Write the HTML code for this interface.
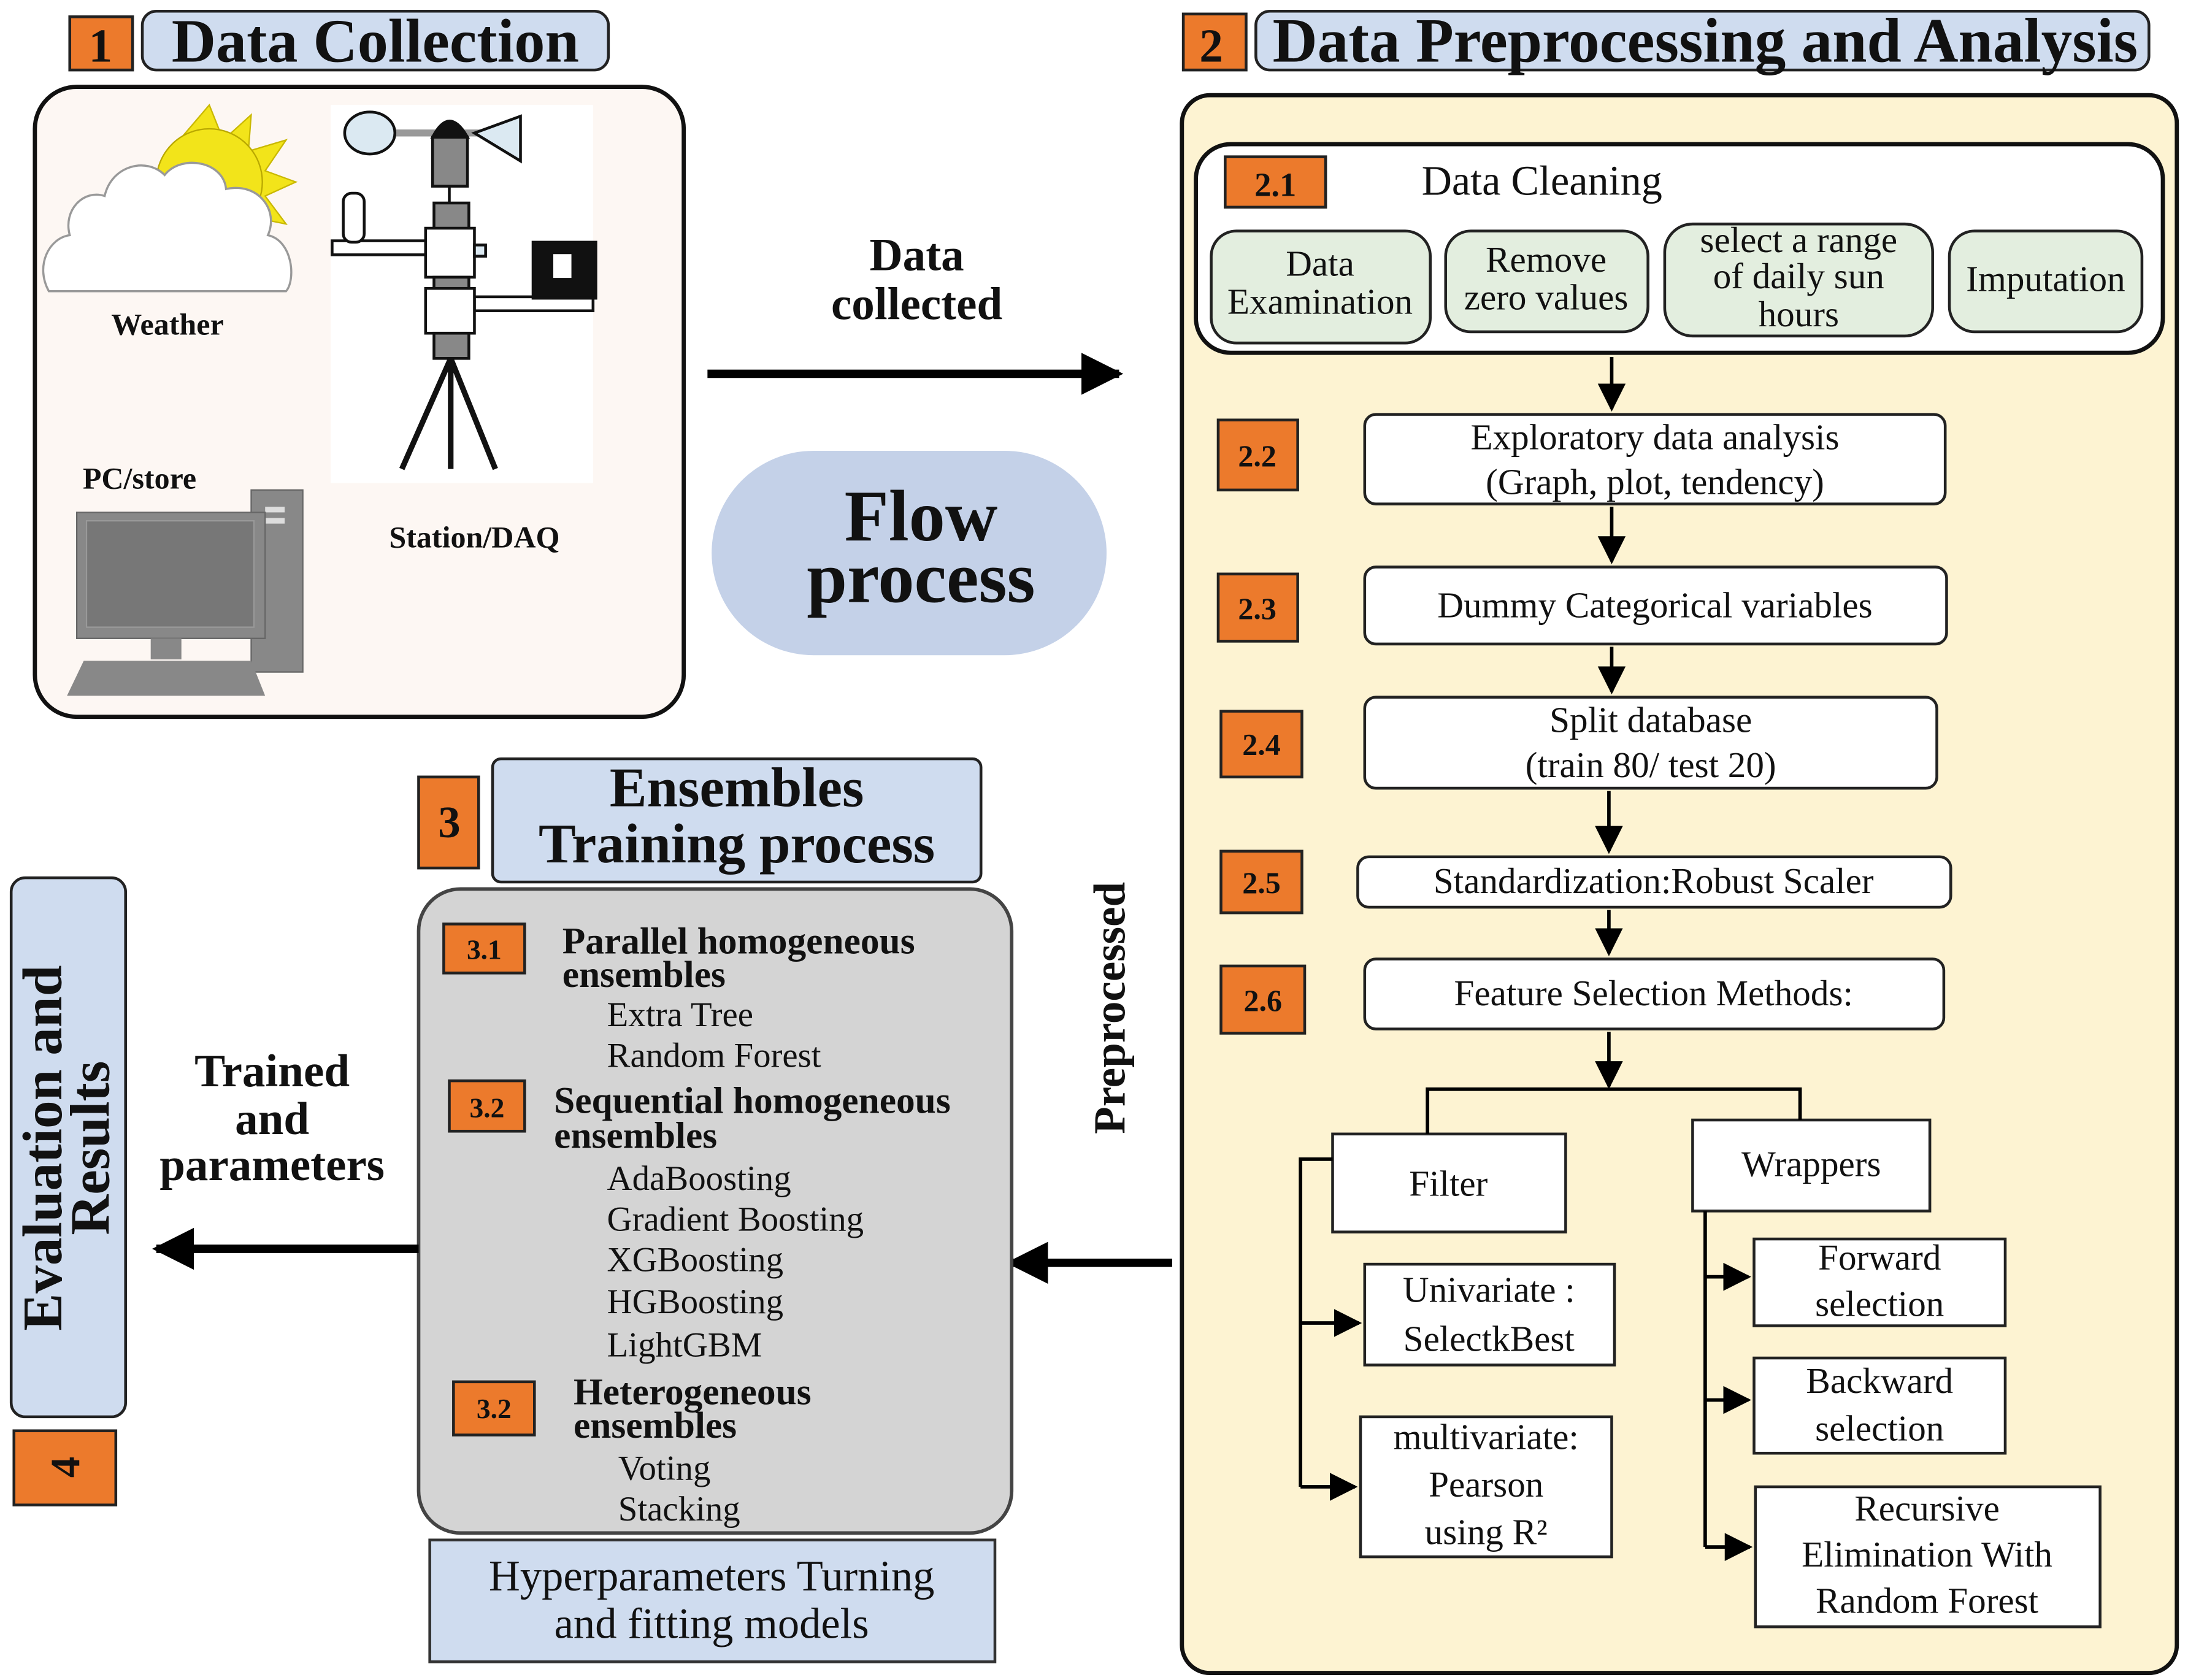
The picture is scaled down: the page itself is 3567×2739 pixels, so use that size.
<!DOCTYPE html>
<html><head><meta charset="utf-8"><style>
html,body{margin:0;padding:0;background:#fff}
svg{display:block}
text{font-family:"Liberation Serif",serif;fill:#111}
.b{font-weight:bold}
</style></head><body>
<svg width="3567" height="2739" viewBox="0 0 1568 1200" preserveAspectRatio="none" xmlns="http://www.w3.org/2000/svg">
<defs>
<marker id="ah" viewBox="0 0 10 10" refX="9" refY="5" markerWidth="5" markerHeight="5" orient="auto"><path d="M0,0L10,5L0,10z" fill="#000"/></marker>
<marker id="ahs" viewBox="0 0 10 10" refX="9" refY="5" markerWidth="8" markerHeight="8" orient="auto"><path d="M0,0L10,5L0,10z" fill="#000"/></marker>
</defs>
<g stroke="#222" stroke-width="2">
<rect x="50" y="12" width="45" height="38" fill="#ec7a2c"/>
<rect x="102" y="8" width="334" height="42" rx="10" fill="#cfdcef"/>
<rect x="25" y="62" width="465" height="450" rx="30" fill="#fdf7f3" stroke="#111" stroke-width="3"/>
</g>
<text x="72" y="44" class="b" font-size="34" text-anchor="middle">1</text>
<text x="269" y="44" class="b" font-size="44" text-anchor="middle">Data Collection</text>
<g>
<polygon points="150,75 160,100 180,82 178,108 205,100 190,122 212,130 190,140 205,160 180,155 170,172 140,150 120,110" fill="#f2e41a" stroke="#c9b800"/>
<circle cx="150" cy="130" r="38" fill="#f2e41a" stroke="#b9a800"/>
<path d="M35,208 C25,190 35,170 50,168 C45,150 60,135 75,140 C80,118 105,112 118,125 C130,110 160,115 162,135 C185,130 200,150 192,168 C210,172 212,200 205,208 Z" fill="#fff" stroke="#999" stroke-width="1.5"/>
</g>
<text x="120" y="239" class="b" font-size="22" text-anchor="middle">Weather</text>
<rect x="237" y="75" width="188" height="270" fill="#fff"/>
<g stroke="#111" stroke-width="2">
<line x1="280" y1="95" x2="345" y2="95" stroke="#999" stroke-width="5"/>
<ellipse cx="265" cy="95" rx="18" ry="15" fill="#dbe9f2"/>
<path d="M340,95 L373,83 L373,115 Z" fill="#dbe9f2"/>
<path d="M310,98 Q322,75 335,98 Z" fill="#111"/>
<rect x="310" y="98" width="25" height="35" fill="#888"/>
<line x1="322" y1="133" x2="322" y2="145"/>
<rect x="311" y="145" width="25" height="20" fill="#888"/>
<rect x="238" y="172" width="67" height="10" fill="#fff"/>
<rect x="246" y="138" width="15" height="35" rx="6" fill="#fff"/>
<rect x="305" y="163" width="35" height="35" fill="#fff"/>
<rect x="340" y="175" width="8" height="8" fill="#dbe9f2"/>
<rect x="311" y="198" width="25" height="10" fill="#888"/>
<rect x="340" y="212" width="85" height="10" fill="#fff"/>
<rect x="305" y="206" width="35" height="32" fill="#fff"/>
<rect x="382" y="173" width="45" height="40" fill="#111"/>
<rect x="396" y="181" width="14" height="18" fill="#fff" stroke="#111" stroke-width="1"/>
<rect x="311" y="238" width="25" height="18" fill="#888"/>
<path d="M323,256 L288,335 M323,256 L323,335 M323,256 L355,335" stroke-width="4"/>
</g>
<text x="340" y="391" class="b" font-size="22" text-anchor="middle">Station/DAQ</text>
<text x="100" y="349" class="b" font-size="22" text-anchor="middle">PC/store</text>
<g>
<rect x="180" y="350" width="37" height="130" fill="#888" stroke="#666"/>
<rect x="190" y="362" width="14" height="4" fill="#ddd"/><rect x="190" y="370" width="14" height="4" fill="#ddd"/>
<rect x="55" y="366" width="135" height="90" fill="#888" stroke="#666"/>
<rect x="62" y="372" width="120" height="76" fill="#777" stroke="#999"/>
<rect x="108" y="456" width="22" height="15" fill="#888"/>
<path d="M60,472 L180,472 L190,497 L48,497 Z" fill="#888"/>
</g>
<line x1="507" y1="267" x2="802" y2="267" stroke="#000" stroke-width="6" marker-end="url(#ah)"/>
<text x="657" y="193" class="b" font-size="33" text-anchor="middle">Data</text>
<text x="657" y="228" class="b" font-size="33" text-anchor="middle">collected</text>
<rect x="510" y="322" width="283" height="146" rx="73" fill="#c4d1e8"/>
<text x="660" y="386" class="b" font-size="52" text-anchor="middle">Flow</text>
<text x="660" y="430" class="b" font-size="52" text-anchor="middle">process</text>
<g stroke="#222" stroke-width="2">
<rect x="848" y="10" width="45" height="40" fill="#ec7a2c"/>
<rect x="900" y="8" width="640" height="42" rx="10" fill="#cfdcef"/>
<rect x="847" y="68" width="713" height="1127" rx="20" fill="#fdf3d2" stroke="#111" stroke-width="3"/>
<rect x="857" y="103" width="693" height="149" rx="25" fill="#fff" stroke="#111" stroke-width="3"/>
<rect x="878" y="112" width="72" height="36" fill="#ec7a2c"/>
<rect x="868" y="165" width="157" height="80" rx="18" fill="#e3eedf"/>
<rect x="1036" y="165" width="145" height="72" rx="18" fill="#e3eedf"/>
<rect x="1193" y="160" width="192" height="80" rx="20" fill="#e3eedf"/>
<rect x="1397" y="165" width="138" height="72" rx="18" fill="#e3eedf"/>
<rect x="978" y="296" width="416" height="64" rx="8" fill="#fff"/>
<rect x="873" y="300" width="57" height="50" fill="#ec7a2c"/>
<rect x="978" y="405" width="417" height="55" rx="8" fill="#fff"/>
<rect x="873" y="410" width="57" height="48" fill="#ec7a2c"/>
<rect x="978" y="498" width="410" height="65" rx="8" fill="#fff"/>
<rect x="875" y="508" width="58" height="47" fill="#ec7a2c"/>
<rect x="973" y="612" width="425" height="36" rx="8" fill="#fff"/>
<rect x="875" y="608" width="58" height="44" fill="#ec7a2c"/>
<rect x="978" y="685" width="415" height="50" rx="8" fill="#fff"/>
<rect x="875" y="690" width="60" height="48" fill="#ec7a2c"/>
<rect x="955" y="810" width="167" height="70" fill="#fff"/>
<rect x="1213" y="800" width="170" height="65" fill="#fff"/>
<rect x="978" y="903" width="179" height="72" fill="#fff"/>
<rect x="975" y="1012" width="180" height="100" fill="#fff"/>
<rect x="1257" y="885" width="180" height="62" fill="#fff"/>
<rect x="1257" y="970" width="180" height="68" fill="#fff"/>
<rect x="1258" y="1062" width="247" height="100" fill="#fff"/>
</g>
<text x="868" y="44" class="b" font-size="34" text-anchor="middle">2</text>
<text x="1222" y="44" class="b" font-size="45" text-anchor="middle" textLength="620" lengthAdjust="spacingAndGlyphs">Data Preprocessing and Analysis</text>
<text x="914" y="140" class="b" font-size="24" text-anchor="middle">2.1</text>
<text x="1105" y="139" font-size="30" text-anchor="middle">Data Cleaning</text>
<g font-size="26" text-anchor="middle">
<text x="946" y="197">Data</text><text x="946" y="224">Examination</text>
<text x="1108" y="194">Remove</text><text x="1108" y="221">zero values</text>
<text x="1289" y="180">select a range</text><text x="1289" y="206">of daily sun</text><text x="1289" y="233">hours</text>
<text x="1466" y="208">Imputation</text>
<text x="1186" y="321">Exploratory data analysis</text><text x="1186" y="353">(Graph, plot, tendency)</text>
<text x="1186" y="441">Dummy Categorical variables</text>
<text x="1183" y="523">Split database</text><text x="1183" y="555">(train 80/ test 20)</text>
<text x="1185" y="638">Standardization:Robust Scaler</text>
<text x="1185" y="718">Feature Selection Methods:</text>
<text x="1038" y="854">Filter</text>
<text x="1298" y="840">Wrappers</text>
<text x="1067" y="930">Univariate :</text><text x="1067" y="965">SelectkBest</text>
<text x="1065" y="1035">multivariate:</text><text x="1065" y="1069">Pearson</text><text x="1065" y="1103">using R²</text>
<text x="1347" y="907">Forward</text><text x="1347" y="940">selection</text>
<text x="1347" y="995">Backward</text><text x="1347" y="1029">selection</text>
<text x="1381" y="1086">Recursive</text><text x="1381" y="1119">Elimination With</text><text x="1381" y="1152">Random Forest</text>
</g>
<g class="b" font-size="22" text-anchor="middle">
<text x="901" y="333" class="b">2.2</text>
<text x="901" y="442" class="b">2.3</text>
<text x="904" y="539" class="b">2.4</text>
<text x="904" y="638" class="b">2.5</text>
<text x="905" y="722" class="b">2.6</text>
</g>
<g stroke="#000" stroke-width="2.5" fill="none">
<line x1="1155" y1="255" x2="1155" y2="292" marker-end="url(#ahs)"/>
<line x1="1155" y1="362" x2="1155" y2="401" marker-end="url(#ahs)"/>
<line x1="1155" y1="462" x2="1155" y2="494" marker-end="url(#ahs)"/>
<line x1="1153" y1="565" x2="1153" y2="608" marker-end="url(#ahs)"/>
<line x1="1153" y1="650" x2="1153" y2="681" marker-end="url(#ahs)"/>
<line x1="1153" y1="737" x2="1153" y2="776" marker-end="url(#ahs)"/>
<path d="M1023,810 L1023,778 L1290,778 L1290,800"/>
<path d="M955,828 L932,828 L932,1062"/>
<line x1="932" y1="945" x2="974" y2="945" marker-end="url(#ahs)"/>
<line x1="932" y1="1062" x2="971" y2="1062" marker-end="url(#ahs)"/>
<path d="M1222,865 L1222,1105"/>
<line x1="1222" y1="912" x2="1253" y2="912" marker-end="url(#ahs)"/>
<line x1="1222" y1="1000" x2="1253" y2="1000" marker-end="url(#ahs)"/>
<line x1="1222" y1="1105" x2="1254" y2="1105" marker-end="url(#ahs)"/>
</g>
<text transform="translate(806,720) rotate(-90)" class="b" font-size="32" text-anchor="middle">Preprocessed</text>
<line x1="840" y1="902" x2="724" y2="902" stroke="#000" stroke-width="6" marker-end="url(#ah)"/>
<g stroke="#222" stroke-width="2">
<rect x="300" y="555" width="43" height="65" fill="#ec7a2c"/>
<rect x="353" y="542" width="350" height="88" rx="6" fill="#cfdcef"/>
<rect x="300" y="635" width="425" height="460" rx="30" fill="#d4d4d4" stroke="#444" stroke-width="2.5"/>
<rect x="318" y="660" width="58" height="35" fill="#ec7a2c"/>
<rect x="322" y="772" width="54" height="36" fill="#ec7a2c"/>
<rect x="325" y="987" width="58" height="38" fill="#ec7a2c"/>
<rect x="308" y="1100" width="405" height="87" fill="#cfdcef" stroke="#333"/>
<rect x="8" y="627" width="82" height="385" rx="10" fill="#cfdcef"/>
<rect x="10" y="1022" width="73" height="53" fill="#ec7a2c"/>
</g>
<text x="322" y="598" class="b" font-size="32" text-anchor="middle">3</text>
<text x="528" y="576" class="b" font-size="40" text-anchor="middle">Ensembles</text>
<text x="528" y="616" class="b" font-size="40" text-anchor="middle">Training process</text>
<g class="b" font-size="20" text-anchor="middle">
<text x="347" y="685" class="b">3.1</text>
<text x="349" y="798" class="b">3.2</text>
<text x="354" y="1013" class="b">3.2</text>
</g>
<g class="b" font-size="27">
<text x="403" y="681" class="b">Parallel homogeneous</text>
<text x="403" y="705" class="b">ensembles</text>
<text x="397" y="795" class="b">Sequential homogeneous</text>
<text x="397" y="820" class="b">ensembles</text>
<text x="411" y="1003" class="b">Heterogeneous</text>
<text x="411" y="1027" class="b">ensembles</text>
</g>
<g font-size="25">
<text x="435" y="733">Extra Tree</text>
<text x="435" y="762">Random Forest</text>
<text x="435" y="850">AdaBoosting</text>
<text x="435" y="879">Gradient Boosting</text>
<text x="435" y="908">XGBoosting</text>
<text x="435" y="938">HGBoosting</text>
<text x="435" y="969">LightGBM</text>
<text x="443" y="1057">Voting</text>
<text x="443" y="1086">Stacking</text>
</g>
<text x="510" y="1136" font-size="31" text-anchor="middle">Hyperparameters Turning</text>
<text x="510" y="1170" font-size="31" text-anchor="middle">and fitting models</text>
<line x1="300" y1="892" x2="112" y2="892" stroke="#000" stroke-width="6" marker-end="url(#ah)"/>
<text x="195" y="776" class="b" font-size="33" text-anchor="middle">Trained</text>
<text x="195" y="810" class="b" font-size="33" text-anchor="middle">and</text>
<text x="195" y="843" class="b" font-size="33" text-anchor="middle">parameters</text>
<text transform="translate(44,820) rotate(-90)" class="b" font-size="40" text-anchor="middle">Evaluation and</text>
<text transform="translate(78,820) rotate(-90)" class="b" font-size="40" text-anchor="middle">Results</text>
<text transform="translate(57,1048) rotate(-90)" class="b" font-size="30" text-anchor="middle">4</text>
</svg>
</body></html>
